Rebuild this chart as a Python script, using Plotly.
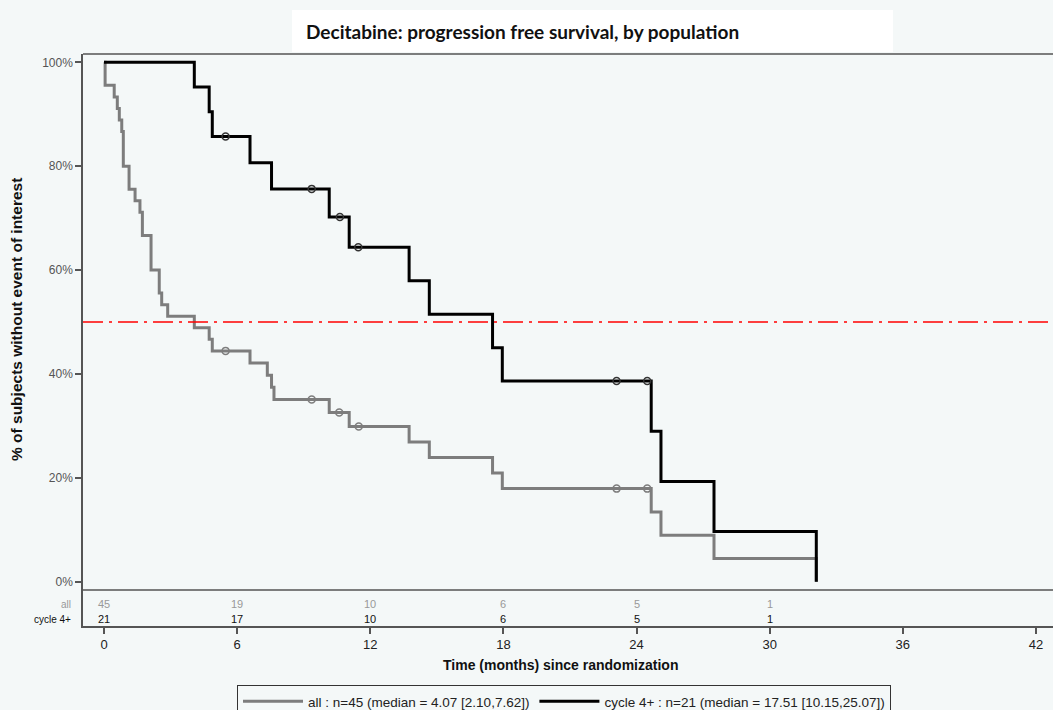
import plotly.graph_objects as go

# ---------------- data ----------------
# Kaplan-Meier step curves (time in months, survival in %)
all_times = [0, 0.05, 0.46, 0.60, 0.69, 0.80, 0.87, 1.13, 1.40, 1.62, 1.73, 2.12, 2.49, 2.60, 2.87,
             4.07, 4.74, 4.88, 6.58, 7.36, 7.55, 7.66, 10.15, 11.05, 13.75, 14.66, 17.51, 17.95,
             24.66, 25.10, 27.49, 32.10]
all_surv = [100, 95.56, 93.33, 91.11, 88.89, 86.67, 80.00, 75.56, 73.33, 71.11, 66.67, 60.00, 55.56, 53.33, 51.11,
            48.89, 46.67, 44.44, 42.11, 39.77, 37.43, 35.09, 32.58, 29.87, 26.88, 23.90, 20.91, 17.92,
            13.44, 8.96, 4.48, 0]
all_cens_t = [5.48, 9.36, 10.60, 11.48, 23.10, 24.48]
all_cens_s = [44.44, 35.09, 32.58, 29.87, 17.92, 17.92]

c4_times = [0, 4.07, 4.74, 4.88, 6.58, 7.55, 10.15, 11.05, 13.75, 14.66, 17.51, 17.95, 24.66, 25.10, 27.49, 32.10]
c4_surv = [100, 95.24, 90.48, 85.71, 80.67, 75.63, 70.23, 64.38, 57.94, 51.50, 45.06, 38.62, 28.96, 19.31, 9.65, 0]
c4_cens_t = [5.48, 9.36, 10.63, 11.46, 23.10, 24.48]
c4_cens_s = [85.71, 75.63, 70.23, 64.38, 38.62, 38.62]

# numbers at risk
risk_times = [0, 6, 12, 18, 24, 30]
risk_all = [45, 19, 10, 6, 5, 1]
risk_c4 = [21, 17, 10, 6, 5, 1]

x_ticks = [0, 6, 12, 18, 24, 30, 36, 42]
y_ticks = [0, 20, 40, 60, 80, 100]
y_ticklabels = ["0%", "20%", "40%", "60%", "80%", "100%"]

legend_all = "all : n=45 (median = 4.07 [2.10,7.62])"
legend_c4 = "cycle 4+ : n=21 (median = 17.51 [10.15,25.07])"

GRAY = "#7d7d7d"
BLACK = "#000000"
AXIS = "#555555"
BG = "#f4f8f8"
FONT = "Liberation Sans, Arial, sans-serif"

# ---------------- figure ----------------
W, H = 1053, 730                    # window shows the top 710 px (legend is cut like the reference)
L, R, T = 83, 0, 54
AXIS_Y = 626                        # pixel row of the x axis
B = H - AXIS_Y
plot_h = AXIS_Y - T                 # 572
table_h = 36                        # at-risk strip 590..626
split = table_h / plot_h
PW = W - L


def px(xp):
    return (xp - L) / PW


def py(yp):
    return (AXIS_Y - yp) / plot_h


fig = go.Figure()

fig.add_trace(go.Scatter(x=all_times, y=all_surv, mode="lines", line=dict(shape="hv", color=GRAY, width=3),
                         name=legend_all, xaxis="x", yaxis="y"))
fig.add_trace(go.Scatter(x=all_cens_t, y=all_cens_s, mode="markers", showlegend=False,
                         marker=dict(symbol="circle-open", size=7, color=GRAY, line=dict(width=1.5)),
                         xaxis="x", yaxis="y"))
fig.add_trace(go.Scatter(x=c4_times, y=c4_surv, mode="lines", line=dict(shape="hv", color=BLACK, width=3),
                         name=legend_c4, xaxis="x", yaxis="y"))
fig.add_trace(go.Scatter(x=c4_cens_t, y=c4_cens_s, mode="markers", showlegend=False,
                         marker=dict(symbol="circle-open", size=7, color="#333333", line=dict(width=1.5)),
                         xaxis="x", yaxis="y"))

x0 = (L - 104) / 22.19
x1 = (W - 104) / 22.19

fig.update_layout(
    width=W, height=H,
    margin=dict(l=L, r=R, t=T, b=B, pad=0),
    paper_bgcolor=BG, plot_bgcolor=BG,
    font=dict(family=FONT, size=12, color="#222"),
    xaxis=dict(range=[x0, x1], anchor="y2", tickvals=x_ticks, ticks="outside", ticklen=6, tickwidth=1.5,
               tickcolor=AXIS, showline=True, linecolor=AXIS, linewidth=1.5, showgrid=False, zeroline=False,
               tickfont=dict(family=FONT, size=13, color="#222")),
    yaxis=dict(domain=[split, 1], range=[-1.6, 101.6], tickvals=y_ticks, ticktext=y_ticklabels,
               ticks="outside", ticklen=6, tickwidth=1.5, tickcolor=AXIS, showline=True, linecolor=AXIS,
               linewidth=1.5, showgrid=False, zeroline=False,
               tickfont=dict(family=FONT, size=12, color="#555")),
    yaxis2=dict(domain=[0, split], range=[0, table_h], showticklabels=False, ticks="", showline=True,
                linecolor=AXIS, linewidth=1.5, showgrid=False, zeroline=False),
    showlegend=True,
    legend=dict(orientation="h", x=px(237), xanchor="left", y=py(685), yanchor="top",
                bordercolor="#333", borderwidth=1, bgcolor=BG, itemwidth=60,
                font=dict(family=FONT, size=13.5, color="#222"), traceorder="normal"),
)

# title background + title
fig.add_shape(type="rect", xref="paper", yref="paper", x0=px(292), x1=px(893), y0=py(52), y1=py(10),
              fillcolor="white", line=dict(width=0), layer="below")
fig.add_annotation(text="<b>Decitabine: progression free survival, by population</b>", xref="paper", yref="paper",
                   x=px(522), y=py(31), xanchor="center", yanchor="middle", showarrow=False,
                   font=dict(family="Lato, Open Sans, sans-serif", size=19, color="#111"))

# top border and bottom border of main panel
fig.add_shape(type="line", xref="paper", yref="y domain", x0=0, x1=1, y0=1, y1=1,
              line=dict(color=AXIS, width=1.5))
fig.add_shape(type="line", xref="paper", yref="y domain", x0=0, x1=1, y0=0, y1=0,
              line=dict(color=AXIS, width=1.5))

# median reference line
fig.add_shape(type="line", xref="paper", yref="y", x0=0, x1=1, y0=50, y1=50,
              line=dict(color="#ff0000", width=1.5, dash="20px,6px,3px,6px"))

# axis titles
fig.add_annotation(text="<b>Time (months) since randomization</b>", xref="paper", yref="paper",
                   x=px(560), y=py(665), xanchor="center", yanchor="middle", showarrow=False,
                   font=dict(family=FONT, size=14, color="#111"))
fig.add_annotation(text="<b>% of subjects without event of interest</b>", xref="paper", yref="paper",
                   x=px(16), y=py(320), xanchor="center", yanchor="middle", textangle=-90, showarrow=False,
                   font=dict(family=FONT, size=15.5, color="#111"))

# at-risk table
fig.add_annotation(text="all", xref="paper", yref="y2", x=px(73), y=22, xanchor="right", yanchor="middle",
                   showarrow=False, font=dict(family=FONT, size=10, color="#999"))
fig.add_annotation(text="cycle 4+", xref="paper", yref="y2", x=px(73), y=7, xanchor="right", yanchor="middle",
                   showarrow=False, font=dict(family=FONT, size=10, color="#111"))
for t, a, c in zip(risk_times, risk_all, risk_c4):
    fig.add_annotation(text=str(a), xref="x", yref="y2", x=t, y=22, xanchor="center", yanchor="middle",
                       showarrow=False, font=dict(family=FONT, size=11, color="#999"))
    fig.add_annotation(text=str(c), xref="x", yref="y2", x=t, y=7, xanchor="center", yanchor="middle",
                       showarrow=False, font=dict(family=FONT, size=11, color="#111"))

fig.write_html("out.html", config={"displayModeBar": False},
               post_script="document.body.style.margin='0';document.body.style.overflow='hidden';"
                           "document.documentElement.style.overflow='hidden';")
